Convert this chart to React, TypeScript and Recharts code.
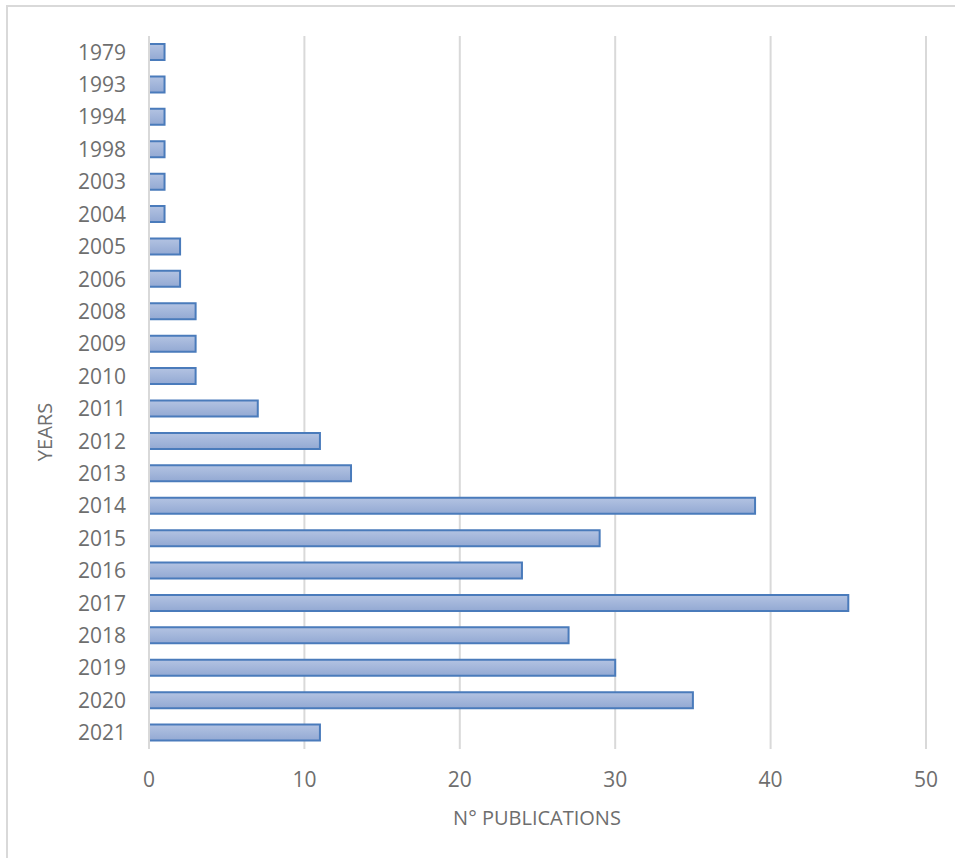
import React from "react";
import { BarChart, Bar, CartesianGrid, XAxis, YAxis } from "recharts";

const years = [
  "1979", "1993", "1994", "1998", "2003", "2004", "2005", "2006", "2008", "2009", "2010",
  "2011", "2012", "2013", "2014", "2015", "2016", "2017", "2018", "2019", "2020", "2021",
];
const publications = [1, 1, 1, 1, 1, 1, 2, 2, 3, 3, 3, 7, 11, 13, 39, 29, 24, 45, 27, 30, 35, 11];
const xTicks = [0, 10, 20, 30, 40, 50];

const data = years.map((year, i) => ({ year, count: publications[i] }));

const font = "'Open Sans', 'Liberation Sans', sans-serif";
const textGray = "#6e6e6e";
const gridGray = "#d9d9d9";

export default function App() {
  return (
    <div style={{ position: "absolute", left: 0, top: 0, width: 955, height: 858, background: "#fff", overflow: "hidden" }}>
      <div
        style={{
          position: "absolute",
          left: 6,
          top: 5,
          width: 960,
          height: 870,
          borderTop: `2px solid ${gridGray}`,
          borderLeft: `2px solid ${gridGray}`,
        }}
      />
      <BarChart
        width={955}
        height={858}
        data={data}
        layout="vertical"
        margin={{ top: 36, right: 29, bottom: 54, left: 0 }}
        barSize={16}
        style={{ position: "absolute", left: 0, top: 0 }}
      >
        <defs>
          <linearGradient id="barFill" x1="0" y1="0" x2="0" y2="1">
            <stop offset="0%" stopColor="#b3c3e2" />
            <stop offset="100%" stopColor="#93a9d3" />
          </linearGradient>
        </defs>
        <CartesianGrid horizontal={false} stroke={gridGray} strokeWidth={2} />
        <XAxis
          type="number"
          domain={[0, 50]}
          ticks={xTicks}
          height={55}
          axisLine={false}
          tickLine={false}
          tickSize={0}
          tickMargin={23}
          tick={{ fill: textGray, fontSize: 21, fontFamily: font }}
        />
        <YAxis
          type="category"
          dataKey="year"
          width={149}
          axisLine={{ stroke: gridGray, strokeWidth: 2 }}
          tickLine={false}
          tickSize={0}
          tickMargin={23}
          interval={0}
          tick={{ fill: textGray, fontSize: 21, fontFamily: font }}
        />
        <Bar dataKey="count" fill="url(#barFill)" stroke="#4a7bbb" strokeWidth={2} isAnimationActive={false} />
      </BarChart>
      <div
        style={{
          position: "absolute",
          left: 537,
          top: 817,
          transform: "translate(-50%, -50%)",
          fontFamily: font,
          fontSize: 20,
          color: textGray,
          whiteSpace: "nowrap",
        }}
      >
        N° PUBLICATIONS
      </div>
      <div
        style={{
          position: "absolute",
          left: 44,
          top: 432,
          transform: "translate(-50%, -50%) rotate(-90deg)",
          fontFamily: font,
          fontSize: 20,
          color: textGray,
          whiteSpace: "nowrap",
        }}
      >
        YEARS
      </div>
    </div>
  );
}
